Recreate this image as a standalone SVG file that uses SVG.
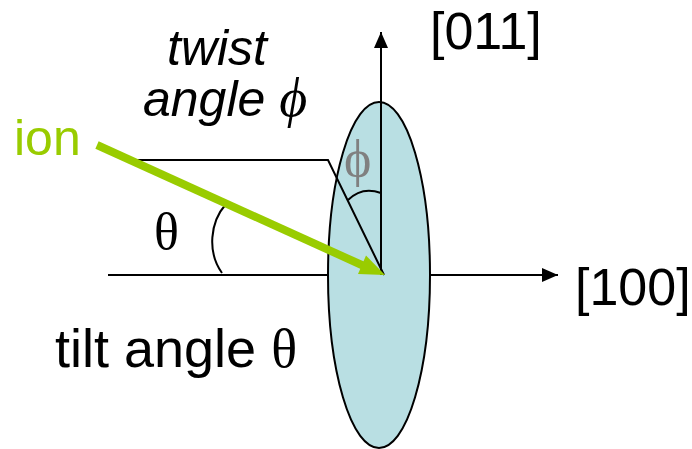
<svg xmlns="http://www.w3.org/2000/svg" width="692" height="449" viewBox="0 0 692 449">
<defs>
<style>
.ln{stroke:#000;stroke-width:2;fill:none}
.lbl{font-family:"Liberation Sans",Arial,sans-serif;fill:#000}
.sym{font-family:"Liberation Serif","Times New Roman",serif}
</style>
<marker id="ah" markerWidth="16" markerHeight="14" refX="16" refY="7" orient="auto" markerUnits="userSpaceOnUse">
<path d="M0,0 L16,7 L0,14 Z" fill="#000"/>
</marker>
</defs>
<rect width="692" height="449" fill="#fff"/>
<g id="axis-100">
<line class="ln" x1="108" y1="275" x2="558" y2="275" marker-end="url(#ah)"/>
</g>
<g id="plane">
<ellipse cx="379" cy="275" rx="51" ry="173" fill="#B9DFE3" stroke="#000" stroke-width="2"/>
</g>
<g id="connectors">
<line class="ln" x1="381" y1="275" x2="381" y2="32" marker-end="url(#ah)"/>
<polyline class="ln" points="125,160 328,160 384,275"/>
<path class="ln" d="M226,204 C210,222 207,252 222,273"/>
<path class="ln" d="M348,200 Q362,186 381,193"/>
<g id="ion-arrow">
<line x1="97" y1="145" x2="364" y2="266" stroke="#99CC00" stroke-width="8"/>
<polygon points="385,275 358,274 366,255.6" fill="#99CC00"/>
</g>
</g>
<g id="labels">
<text class="lbl" x="430" y="49" font-size="52">[011]</text>
<text class="lbl" x="575" y="305" font-size="52">[100]</text>
<text class="lbl" x="167" y="65" font-size="50" font-style="italic">twist</text>
<text class="lbl" x="143" y="116" font-size="50" font-style="italic">angle <tspan class="sym" font-size="54">ϕ</tspan></text>
<text class="lbl" x="14" y="155" font-size="50" fill="#99CC00" style="fill:#99CC00">ion</text>
<text class="sym" x="154" y="249" font-size="52">θ</text>
<text class="sym" x="344" y="176" font-size="52" fill="#808080">ϕ</text>
<text class="lbl" x="55" y="367" font-size="54">tilt angle <tspan class="sym">θ</tspan></text>
</g>
</svg>
